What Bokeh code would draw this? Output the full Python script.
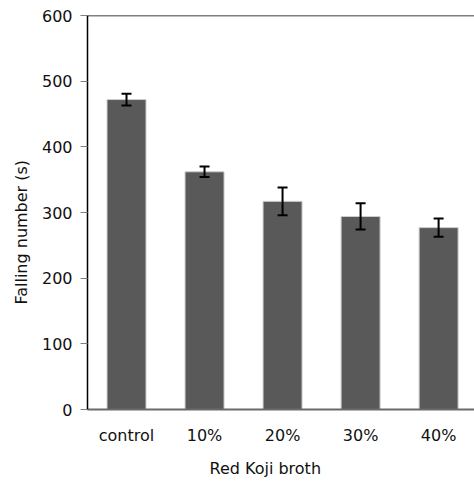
from bokeh.plotting import figure
from bokeh.models import Range1d, FixedTicker, Whisker, ColumnDataSource, Title, TeeHead, Span
from bokeh.embed import file_html
from bokeh.resources import INLINE

categories = ["control", "10%", "20%", "30%", "40%"]
values = [472, 362, 317, 294, 277]
errors = [9, 8, 21, 20, 14]
y_ticks = [0, 100, 200, 300, 400, 500, 600]

xs = list(range(len(categories)))
src = ColumnDataSource(dict(
    x=xs, top=values,
    upper=[v + e for v, e in zip(values, errors)],
    lower=[v - e for v, e in zip(values, errors)],
))

FONT = "DejaVu Sans"

p = figure(width=474, height=486, output_backend="svg", toolbar_location=None,
           x_range=Range1d(-0.5, 4.46), y_range=Range1d(0, 600),
           min_border_left=87, min_border_right=0, min_border_top=15, min_border_bottom=0)
p.outline_line_color = None
p.xgrid.visible = False
p.ygrid.visible = False
p.background_fill_color = "white"
p.border_fill_color = "white"

p.vbar(x="x", top="top", width=0.5, source=src, fill_color="#595959",
       line_color="#d0d0d0", line_width=1)

w = Whisker(base="x", upper="upper", lower="lower", source=src,
            line_color="black", line_width=2, level="overlay",
            upper_head=TeeHead(size=10, line_width=2, line_color="black"),
            lower_head=TeeHead(size=10, line_width=2, line_color="black"))
p.add_layout(w)

# top border line
p.add_layout(Span(location=600, dimension="width", line_color="black", line_width=1.5))

# y axis
ya = p.yaxis[0]
ya.ticker = FixedTicker(ticks=y_ticks)
ya.axis_line_color = "black"
ya.axis_line_width = 1.5
ya.major_tick_line_color = "#808080"
ya.major_tick_out = 7
ya.major_tick_in = 0
ya.minor_tick_line_color = None
ya.major_label_text_font = FONT
ya.major_label_text_font_size = "16px"
ya.major_label_text_color = "#111111"
ya.major_label_standoff = 8

# x axis
xa = p.xaxis[0]
xa.ticker = FixedTicker(ticks=xs)
xa.major_label_overrides = {i: c for i, c in zip(xs, categories)}
xa.axis_line_color = "#6a6a6a"
xa.axis_line_width = 2
xa.major_tick_line_color = None
xa.minor_tick_line_color = None
xa.major_tick_out = 0
xa.major_tick_in = 0
xa.major_label_text_font = FONT
xa.major_label_text_font_size = "16px"
xa.major_label_text_color = "#111111"
xa.major_label_standoff = 16

p.add_layout(Title(text="Red Koji broth", align="left", offset=122,
                   text_font=FONT, text_font_size="16px", text_font_style="normal",
                   text_color="#111111", standoff=18), "below")
p.add_layout(Title(text="Falling number (s)", align="left", offset=105,
                   text_font=FONT, text_font_size="16px", text_font_style="normal",
                   text_color="#111111", standoff=16), "left")

open("out.html", "w").write(file_html(p, INLINE))
